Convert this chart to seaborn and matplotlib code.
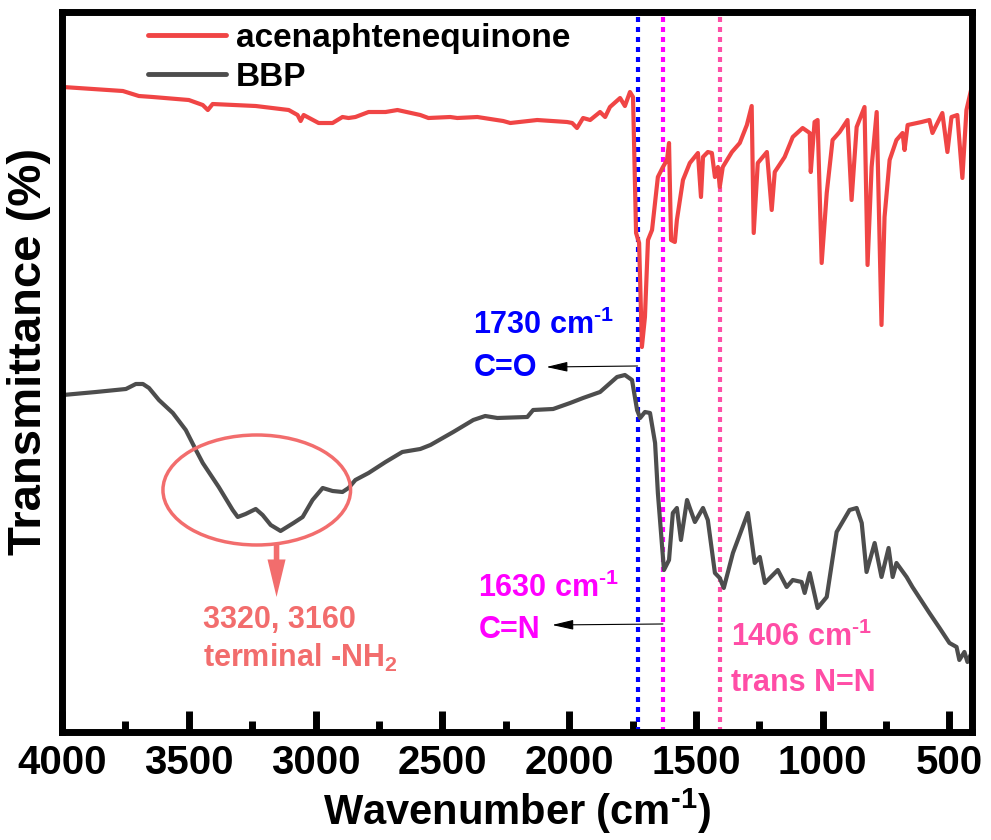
import numpy as np
import pandas as pd
import seaborn as sns
import matplotlib.pyplot as plt
from matplotlib.patches import Ellipse
from matplotlib.ticker import MultipleLocator

# FTIR spectra (transmittance in arbitrary units)
wn_acq = [3996, 3760, 3697, 3642, 3500, 3445, 3425, 3406, 3236, 3106, 3071, 3059, 3047, 2988,
          2933, 2894, 2870, 2843, 2791, 2724, 2677, 2587, 2555, 2469, 2441, 2362, 2260, 2232,
          2126, 2008, 1988, 1969, 1945, 1917, 1878, 1858, 1839, 1799, 1780, 1760, 1748, 1736,
          1724, 1713, 1701, 1689, 1673, 1650, 1630, 1614, 1606, 1598, 1583, 1575, 1551, 1524,
          1492, 1480, 1472, 1453, 1437, 1425, 1413, 1406, 1394, 1358, 1327, 1299, 1280, 1272,
          1256, 1220, 1201, 1189, 1150, 1118, 1079, 1051, 1047, 1032, 1020, 1004, 984, 961,
          933, 902, 886, 866, 835, 823, 807, 787, 768, 756, 736, 709, 685, 677, 665, 610,
          579, 567, 528, 508, 492, 469, 449, 433, 412]
t_acq = [645, 641, 636, 635, 632, 627, 622, 628, 626, 622, 617, 611, 617, 609,
         609, 615, 614, 615, 620, 620, 622, 617, 614, 615, 614, 615, 611, 609,
         612, 610, 609, 604, 614, 612, 620, 615, 625, 634, 626, 640, 635, 499,
         489, 385, 415, 492, 502, 555, 565, 572, 589, 492, 490, 512, 552, 569,
         579, 535, 575, 580, 579, 555, 565, 545, 565, 580, 589, 607, 626, 499,
         569, 580, 522, 560, 575, 595, 604, 599, 560, 610, 612, 469, 539, 592,
         600, 612, 532, 605, 625, 467, 565, 620, 407, 515, 572, 592, 599, 582, 607, 610,
         612, 599, 619, 580, 615, 617, 554, 622, 645]

wn_bbp = [3996, 3866, 3748, 3709, 3681, 3657, 3618, 3563, 3512, 3472, 3445, 3382, 3327, 3307,
          3276, 3236, 3209, 3177, 3138, 3087, 3051, 3012, 2972, 2933, 2894, 2870, 2843, 2791,
          2724, 2658, 2587, 2547, 2457, 2378, 2331, 2283, 2165, 2142, 2063, 1996, 1945, 1878,
          1811, 1780, 1752, 1732, 1720, 1701, 1681, 1661, 1650, 1626, 1606, 1591, 1575, 1559,
          1535, 1524, 1504, 1472, 1453, 1425, 1406, 1390, 1354, 1295, 1268, 1248, 1228, 1177,
          1142, 1118, 1083, 1071, 1051, 1020, 984, 945, 894, 866, 846, 827, 795, 768, 740,
          724, 709, 669, 646, 579, 539, 500, 472, 461, 441, 429, 413]
t_bbp = [337, 340, 343, 348, 348, 344, 332, 319, 302, 282, 269, 245, 222, 215,
         218, 223, 217, 207, 201, 209, 215, 232, 244, 241, 240, 244, 252, 259,
         270, 280, 283, 287, 300, 312, 316, 314, 315, 322, 323, 329, 334, 340,
         355, 357, 352, 322, 314, 320, 319, 289, 239, 162, 172, 219, 224, 192,
         232, 224, 210, 224, 212, 159, 154, 144, 179, 219, 169, 175, 149, 162,
         145, 152, 150, 139, 159, 124, 135, 200, 222, 224, 209, 160, 189, 155, 184,
         155, 169, 155, 145, 119, 104, 89, 85, 72, 80, 70, 79]

series_names = ["acenaphtenequinone", "BBP"]
series_colors = ["#F04545", "#4D4D4D"]

# marked bands
band_pos = [1730, 1630, 1406]
band_colors = ["#0000FF", "#FF00FF", "#FF4DA6"]
band_labels = ["1730 cm$^{\\text{-}1}$", "1630 cm$^{\\text{-}1}$", "1406 cm$^{\\text{-}1}$"]
band_groups = ["C=O", "C=N", "trans N=N"]
nh2_label = ["3320, 3160", "terminal -NH$_2$"]
nh2_color = "#F26D6D"

df = pd.concat([
    pd.DataFrame({"wn": wn_acq, "T": t_acq, "sample": series_names[0]}),
    pd.DataFrame({"wn": wn_bbp, "T": t_bbp, "sample": series_names[1]}),
])

sns.set_theme(style="white")
plt.rcParams["font.family"] = ["Liberation Sans", "DejaVu Sans"]
plt.rcParams["font.weight"] = "bold"
plt.rcParams["text.color"] = "black"
plt.rcParams["axes.labelcolor"] = "black"
plt.rcParams["xtick.color"] = "black"
plt.rcParams["mathtext.fontset"] = "custom"
plt.rcParams["mathtext.rm"] = "Liberation Sans:bold"
plt.rcParams["mathtext.bf"] = "Liberation Sans:bold"
plt.rcParams["mathtext.default"] = "bf"

fig = plt.figure(figsize=(9.91, 8.4), dpi=100)
ax = fig.add_axes([0.0626, 0.1286, 0.9185, 0.8571])

sns.lineplot(data=df, x="wn", y="T", hue="sample", palette=series_colors,
             hue_order=series_names, sort=False, lw=3, ax=ax)

ax.set_xlim(4000, 410)
ax.set_ylim(0, 720)

# dotted band markers
for pos, col in zip(band_pos, band_colors):
    ax.axvline(pos, color=col, lw=3, ls=(0, (1.2, 1.2)), dash_capstyle="butt", zorder=1)

fs = 22
thin_arrow = dict(arrowstyle="-|>,head_length=0.65,head_width=0.15",
                  color="black", lw=0.8, mutation_scale=20, shrinkA=0, shrinkB=0)

ax.text(2378, 407, band_labels[0], color=band_colors[0], fontsize=fs, fontweight="bold", va="center")
ax.text(2378, 364, band_groups[0], color=band_colors[0], fontsize=fs, fontweight="bold", va="center")
ax.annotate("", xy=(2090, 365), xytext=(band_pos[0], 366), arrowprops=thin_arrow)

ax.text(2358, 144, band_labels[1], color=band_colors[1], fontsize=fs, fontweight="bold", va="center")
ax.text(2358, 102, band_groups[1], color=band_colors[1], fontsize=fs, fontweight="bold", va="center")
ax.annotate("", xy=(2067, 107), xytext=(band_pos[1], 108), arrowprops=thin_arrow)

ax.text(1362, 95, band_labels[2], color=band_colors[2], fontsize=fs, fontweight="bold", va="center")
ax.text(1362, 49, band_groups[2], color=band_colors[2], fontsize=fs, fontweight="bold", va="center")

# NH2 region
ax.add_patch(Ellipse((3232, 242), 740, 110, fill=False, ec=nh2_color, lw=2.5, zorder=3))
ax.annotate("", xy=(3154, 135), xytext=(3154, 188),
            arrowprops=dict(arrowstyle="simple,head_length=1.35,head_width=0.65,tail_width=0.2",
                            fc=nh2_color, ec="none", mutation_scale=20, shrinkA=0, shrinkB=0))
ax.text(3445, 112, nh2_label[0], color=nh2_color, fontsize=fs, fontweight="bold", va="center")
ax.text(3445, 74, nh2_label[1], color=nh2_color, fontsize=fs, fontweight="bold", va="center")

# axes styling
for sp in ax.spines.values():
    sp.set_linewidth(5)
    sp.set_color("black")
ax.xaxis.set_major_locator(MultipleLocator(500))
ax.xaxis.set_minor_locator(MultipleLocator(250))
ax.tick_params(axis="x", which="major", direction="in", length=15, width=5,
               labelsize=29, pad=9, bottom=True, top=False)
ax.tick_params(axis="x", which="minor", direction="in", length=8, width=5, bottom=True, top=False)
ax.tick_params(axis="y", left=False, right=False, labelleft=False)
for lab in ax.get_xticklabels():
    lab.set_fontweight("bold")

ax.set_xlabel("Wavenumber (cm$^{\\text{-}1}$)", fontsize=30, fontweight="bold", labelpad=3)
ax.set_ylabel("Transmittance (%)", fontsize=34, fontweight="bold")
ax.yaxis.set_label_coords(-0.012, 0.528)

ax.legend(loc="upper left", bbox_to_anchor=(0.094, 0.985), frameon=False,
          borderpad=0, borderaxespad=0, labelspacing=0.25, handlelength=2.35,
          handletextpad=0.3, prop={"weight": "bold", "size": 24})
for line in ax.get_legend().get_lines():
    line.set_linewidth(3.5)

fig.savefig("out.png", dpi=100)
